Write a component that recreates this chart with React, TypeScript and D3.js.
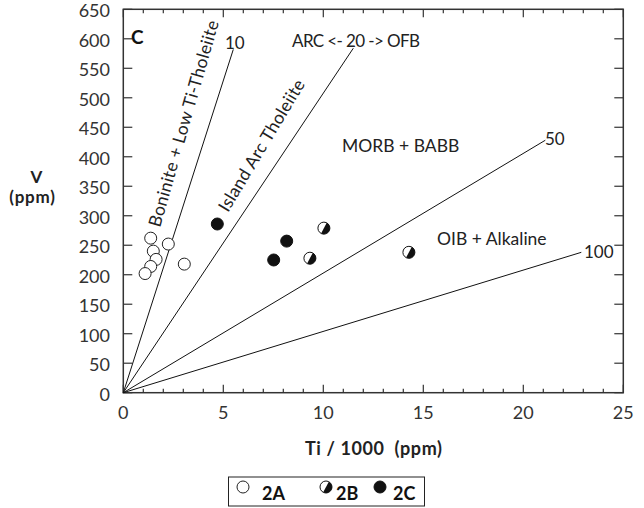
import React from "react";
import * as d3 from "d3";

// Data (Ti/1000 ppm, V ppm)
const groupA: [number, number][] = [
  [1.37, 262], [1.5, 240], [2.25, 252], [1.64, 226], [1.37, 214], [1.09, 202], [3.05, 218],
];
const groupB: [number, number][] = [
  [10.03, 279], [9.33, 228], [14.28, 238],
];
const groupC: [number, number][] = [
  [4.7, 286], [8.17, 257], [7.52, 225],
];
// Ti/V discriminant lines: label, end point [x, V]
const ratioLines: { label: string; end: [number, number] }[] = [
  { label: "10", end: [5.5, 582] },
  { label: "20", end: [11.5, 584] },
  { label: "50", end: [21.1, 428] },
  { label: "100", end: [22.9, 238] },
];
const xTicks = [0, 5, 10, 15, 20, 25];
const xMinor = d3.range(0, 26, 1);
const yTicks = d3.range(0, 651, 50);
const legendItems = ["2A", "2B", "2C"];

const W = 644, H = 508;
const FONT = "Lato, 'Open Sans', sans-serif";
const x = d3.scaleLinear().domain([0, 25]).range([123.3, 623.3]);
const y = d3.scaleLinear().domain([0, 650]).range([392.7, 9.3]);
const R = 6;

function halfPath(cx: number, cy: number, r: number) {
  const a = (-62 * Math.PI) / 180;
  const dx = Math.cos(a) * r, dy = Math.sin(a) * r;
  return `M${cx + dx},${cy + dy} A${r},${r} 0 0 1 ${cx - dx},${cy - dy} Z`;
}

function Marker({ kind, cx, cy }: { kind: string; cx: number; cy: number }) {
  if (kind === "2A")
    return <circle cx={cx} cy={cy} r={R} fill="white" stroke="#222" strokeWidth={1} />;
  if (kind === "2C")
    return <circle cx={cx} cy={cy} r={R} fill="#111" stroke="#111" strokeWidth={1} />;
  return (
    <g>
      <circle cx={cx} cy={cy} r={R} fill="white" stroke="#111" strokeWidth={1} />
      <path d={halfPath(cx, cy, R)} fill="#111" />
    </g>
  );
}

export default function App() {
  const line = d3.line<[number, number]>().x((d) => x(d[0])).y((d) => y(d[1]));
  const x0 = x(0), x1 = x(25), y0 = y(0), y1 = y(650);
  const axisColor = "#333";
  const legendX = [243, 326, 380];
  const legendTextX = [262, 336, 393];
  return (
    <svg width={W} height={H} style={{ position: "absolute", left: 0, top: 0 }} fontFamily={FONT}>
      <rect width={W} height={H} fill="white" />
      {/* frame */}
      <rect x={x0} y={y1} width={x1 - x0} height={y0 - y1} fill="none" stroke={axisColor} strokeWidth={1.5} />
      {/* x ticks bottom and top */}
      {xMinor.map((t) => {
        const major = t % 5 === 0;
        const len = major ? 8 : 4;
        return (
          <g key={"xt" + t}>
            <line x1={x(t)} x2={x(t)} y1={y0} y2={y0 - len} stroke={axisColor} strokeWidth={1.2} />
            <line x1={x(t)} x2={x(t)} y1={y1} y2={y1 + len} stroke={axisColor} strokeWidth={1.2} />
          </g>
        );
      })}
      {xTicks.map((t) => (
        <text key={"xl" + t} x={x(t)} y={419} textAnchor="middle" fontSize={18} fill="#333">
          {t}
        </text>
      ))}
      {yTicks.map((t) => (
        <g key={"yt" + t}>
          <line x1={x0} x2={x0 + 9} y1={y(t)} y2={y(t)} stroke={axisColor} strokeWidth={1.2} />
          <line x1={x1} x2={x1 - 9} y1={y(t)} y2={y(t)} stroke={axisColor} strokeWidth={1.2} />
          <text x={110} y={y(t) + 8} textAnchor="end" fontSize={18} fill="#333">
            {t}
          </text>
        </g>
      ))}
      {/* ratio lines */}
      {ratioLines.map((l) => (
        <path key={l.label} d={line([[0, 0], l.end]) || ""} fill="none" stroke="#111" strokeWidth={1} />
      ))}
      {/* line labels */}
      <text x={225} y={49} fontSize={17} fill="#222">10</text>
      <text x={292} y={46.5} fontSize={17} letterSpacing={-0.6} fill="#222">ARC &lt;- 20 -&gt; OFB</text>
      <text x={545} y={145} fontSize={17} fill="#222">50</text>
      <text x={584} y={258} fontSize={17} fill="#222">100</text>
      <text x={342} y={151.5} fontSize={17.5} fill="#222">MORB + BABB</text>
      <text x={437} y={245} fontSize={17.5} fill="#222">OIB + Alkaline</text>
      <text transform="translate(160,228) rotate(-74)" fontSize={17.5} letterSpacing={0.3} fill="#222">Boninite + Low Ti-Tholeiite</text>
      <text transform="translate(228,213) rotate(-59)" fontSize={17.5} letterSpacing={0.25} fill="#222">Island Arc Tholeiite</text>
      <text x={131} y={43.5} fontSize={19} fontWeight="bold" fill="#111">C</text>
      {/* points */}
      {groupA.map((d, i) => <Marker key={"a" + i} kind="2A" cx={x(d[0])} cy={y(d[1])} />)}
      {groupB.map((d, i) => <Marker key={"b" + i} kind="2B" cx={x(d[0])} cy={y(d[1])} />)}
      {groupC.map((d, i) => <Marker key={"c" + i} kind="2C" cx={x(d[0])} cy={y(d[1])} />)}
      {/* axis titles */}
      <text x={36.5} y={182.5} textAnchor="middle" fontSize={17} fontWeight="bold" fill="#222">V</text>
      <text x={32.5} y={203} textAnchor="middle" fontSize={17} fontWeight="bold" letterSpacing={0.8} fill="#222">(ppm)</text>
      <text x={305} y={455} fontSize={18} fontWeight="bold" letterSpacing={0.6} fill="#222" style={{ whiteSpace: "pre" }}>
        {"Ti / 1000  (ppm)"}
      </text>
      {/* legend */}
      <rect x={228.5} y={477} width={196} height={29} fill="white" stroke="#222" strokeWidth={1} />
      {legendItems.map((k, i) => (
        <g key={k}>
          <Marker kind={k} cx={legendX[i]} cy={487} />
          <text x={legendTextX[i]} y={500} fontSize={18} fontWeight="bold" fill="#111">{k}</text>
        </g>
      ))}
    </svg>
  );
}
